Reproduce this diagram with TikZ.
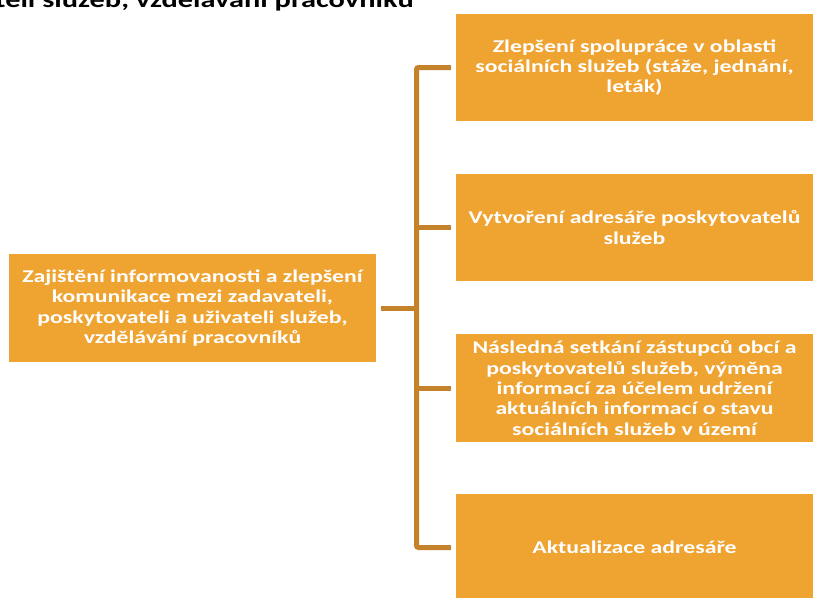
\documentclass[tikz,border=0pt]{standalone}
\usepackage{fontspec}
\newfontfamily\boxfont[FakeStretch=1.32]{Carlito}
\definecolor{boxorange}{HTML}{EFA331}
\definecolor{linebrown}{HTML}{C4832A}
\begin{document}
\begin{tikzpicture}[x=1pt,y=-1pt,
  boxstyle/.style={fill=boxorange, draw=none, inner sep=0pt, text=white,
    font=\boxfont\bfseries\fontsize{18}{20.3}\selectfont, align=center},
  conn/.style={draw=linebrown, line width=5pt, rounded corners=2pt}]
\useasboundingbox (0,0) rectangle (813,597);
\clip (0,0) rectangle (813,597);
% title (cut off)
\node[anchor=base east, font=\boxfont\bfseries\fontsize{23}{26}\selectfont, inner sep=0pt] (title) at (414,7) {uživateli služeb, vzdělávání pracovníků};
% left box
\node[boxstyle, minimum width=367pt, minimum height=108pt] (main) at (192.5,308) {Zajištění informovanosti a zlepšení\\komunikace mezi zadavateli,\\poskytovateli a uživateli služeb,\\vzdělávání pracovníků};
% right boxes
\node[boxstyle, minimum width=357pt, minimum height=107pt] (b1) at (634.5,67.5) {Zlepšení spolupráce v oblasti\\sociálních služeb (stáže, jednání,\\leták)};
\node[boxstyle, minimum width=357pt, minimum height=107pt] (b2) at (634.5,227.5) {Vytvoření adresáře poskytovatelů\\služeb};
\node[boxstyle, minimum width=357pt, minimum height=108pt] (b3) at (634.5,388) {Následná setkání zástupců obcí a\\poskytovatelů služeb, výměna\\informací za účelem udržení\\aktuálních informací o stavu\\sociálních služeb v území};
\node[boxstyle, minimum width=357pt, minimum height=107pt] (b4) at (634.5,547.5) {Aktualizace adresáře};
% connectors
\coordinate (j) at (416.5,308);
\draw[conn] ([xshift=5pt]main.east) -- (j);
\draw[conn] ([xshift=-5pt]b1.west) -| (j);
\draw[conn] ([xshift=-5pt]b4.west) -| (j);
\draw[conn] ([xshift=-5pt]b2.west) -- (j |- b2.west);
\draw[conn] ([xshift=-5pt]b3.west) -- (j |- b3.west);
\end{tikzpicture}
\end{document}
